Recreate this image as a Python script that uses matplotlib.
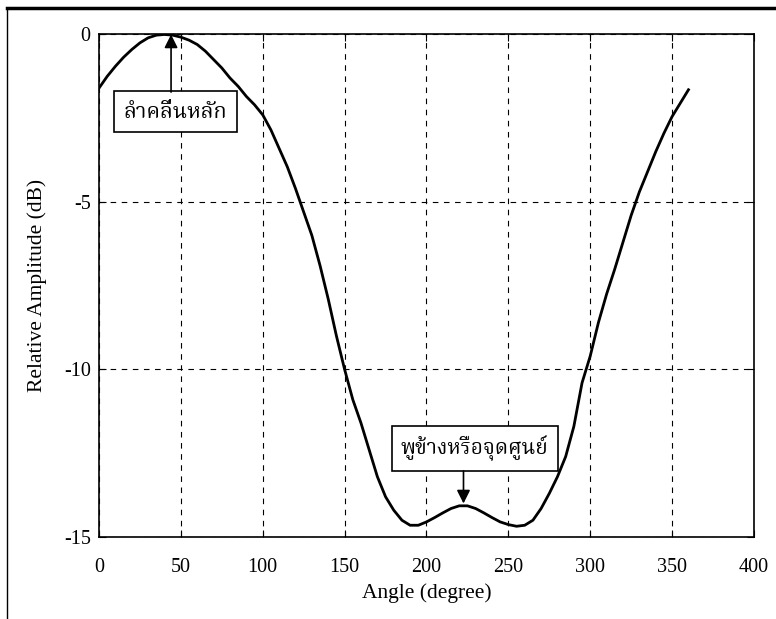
import matplotlib
matplotlib.use("Agg")
from matplotlib import pyplot as plt
from matplotlib import font_manager
from matplotlib.ft2font import FT2Font
from matplotlib.lines import Line2D

# relative amplitude, every 5 degrees
angle = list(range(0, 361, 5))
amplitude = [-1.6, -1.25, -0.95, -0.68, -0.45, -0.25, -0.1, -0.02, 0.0,
             -0.02, -0.08, -0.17, -0.3, -0.5, -0.75, -1.0, -1.3, -1.55,
             -1.85, -2.1, -2.4, -2.85, -3.4, -3.95, -4.6, -5.3, -6.0,
             -6.9, -7.9, -9.0, -10.0, -10.9, -11.6, -12.4, -13.2, -13.8,
             -14.2, -14.5, -14.65, -14.65, -14.55, -14.42, -14.28, -14.15,
             -14.07, -14.07, -14.15, -14.28, -14.42, -14.55, -14.63, -14.68,
             -14.65, -14.5, -14.15, -13.7, -13.2, -12.6, -11.7, -10.4,
             -9.6, -8.6, -7.75, -7.0, -6.2, -5.4, -4.7, -4.1, -3.5,
             -2.95, -2.45, -2.05, -1.65]

xticks = [0, 50, 100, 150, 200, 250, 300, 350, 400]
yticks = [0, -5, -10, -15]
ytick_labels = ["0", "-5", "-10", "-15"]

main_lobe = "ลำคลื่นหลัก"
side_lobe = "พูข้างหรือจุดศูนย์"


# find an installed font that has Thai glyphs, serif ones first
def thai_fonts():
    found = []
    for f in font_manager.fontManager.ttflist:
        try:
            cmap = FT2Font(f.fname).get_charmap()
        except Exception:
            continue
        if 0x0E25 in cmap and f.name not in found:
            found.append(f.name)
    return found


thai = thai_fonts()
prefer = ["Noto Serif Thai", "Norasi", "Taviraj", "Trirong", "Kinnari"]
picked = [n for n in prefer if n in thai] + thai
serif = "Liberation Serif"
text_fam = picked[:1] + [serif]

plt.rcParams["font.family"] = [serif]
plt.rcParams["font.size"] = 14.5

fig = plt.figure(figsize=(7.76, 6.19), dpi=100)
ax = fig.add_axes([0.1276, 0.1325, 0.8440, 0.8118])

ax.plot(angle, amplitude, color="black", lw=2.0)

ax.set_xlim(0, 400)
ax.set_ylim(-15, 0)
ax.set_xticks(xticks)
ax.set_yticks(yticks)
ax.set_yticklabels(ytick_labels)
ax.tick_params(direction="in", length=5, top=True, right=True)
ax.tick_params(axis="x", pad=15)
ax.tick_params(axis="y", pad=6)
ax.grid(True, color="black", ls=(0, (5, 5)), lw=0.8)
for s in ax.spines.values():
    s.set_linewidth(1.2)

ax.set_xlabel("Angle (degree)", fontsize=15.5, labelpad=5)
ax.set_ylabel("Relative Amplitude (dB)", fontsize=15.5, labelpad=12)

box = dict(boxstyle="square,pad=0.45", fc="white", ec="black", lw=1.2)
head = dict(arrowstyle="-|>", color="black", lw=1.2, mutation_scale=20,
            shrinkA=0, shrinkB=0)

# labelled boxes with arrows pointing at the lobes
ax.text(46.5, -2.3, main_lobe, ha="center", va="center", family=text_fam,
        fontsize=15.5, bbox=box)
ax.annotate("", xy=(44, 0), xytext=(44, -1.72), arrowprops=head)

ax.text(229.5, -12.35, side_lobe, ha="center", va="center", family=text_fam,
        fontsize=15, bbox=box)
ax.annotate("", xy=(222.6, -14.0), xytext=(222.6, -13.03), arrowprops=head)

# outer frame of the original figure
fig.add_artist(Line2D([0.009, 1.0], [0.987, 0.987], color="black", lw=2.5))
fig.add_artist(Line2D([0.009, 0.009], [0.0, 0.987], color="black", lw=1.0))

fig.savefig("out.png", dpi=100)
